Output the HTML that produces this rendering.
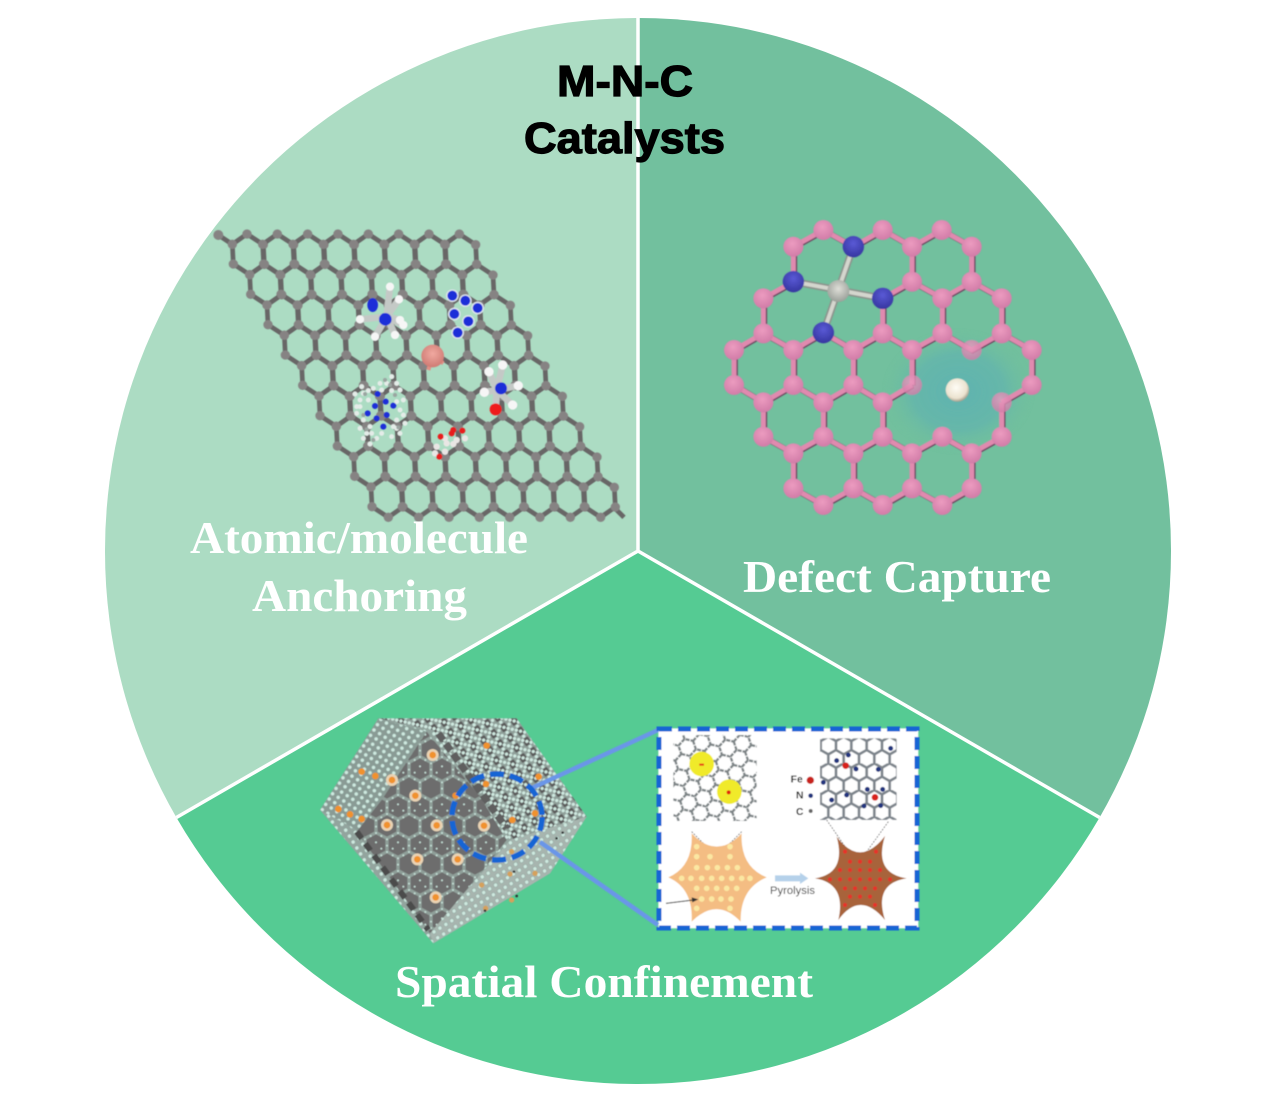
<!DOCTYPE html>
<html><head><meta charset="utf-8"><style>
html,body{margin:0;padding:0;background:#fff}
svg{display:block}
.s{font-family:"Liberation Serif",serif;font-weight:bold;fill:#fff;font-size:45px}
.t{font-family:"Liberation Sans",sans-serif;font-weight:bold;fill:#000;stroke:#000;stroke-width:1.2px;font-size:44px}
</style></head><body>
<svg xmlns="http://www.w3.org/2000/svg" width="1276" height="1102" viewBox="0 0 1276 1102">
<defs>
<filter id="b" filterUnits="userSpaceOnUse" x="0" y="0" width="1276" height="1102"><feGaussianBlur stdDeviation="0.55"/></filter>
<radialGradient id="glow"><stop offset="0" stop-color="#5fb3b0"/><stop offset=".6" stop-color="#65b6ab" stop-opacity=".9"/><stop offset="1" stop-color="#72c09e" stop-opacity="0"/></radialGradient>
<radialGradient id="pk" cx=".45" cy=".35" r=".7"><stop offset="0" stop-color="#ec9cc0"/><stop offset="1" stop-color="#d07aa6"/></radialGradient>
<radialGradient id="nb" cx=".5" cy=".35" r=".7"><stop offset="0" stop-color="#5a5ad6"/><stop offset="1" stop-color="#33339c"/></radialGradient>
<radialGradient id="fe" cx=".5" cy=".4" r=".7"><stop offset="0" stop-color="#dfdfd8"/><stop offset="1" stop-color="#8f958f"/></radialGradient>
<radialGradient id="pt" cx=".45" cy=".4" r=".65"><stop offset="0" stop-color="#fffdf6"/><stop offset=".7" stop-color="#ece3d0"/><stop offset="1" stop-color="#8d8775"/></radialGradient>
<radialGradient id="cu" cx=".5" cy=".4" r=".7"><stop offset="0" stop-color="#f0a9a0"/><stop offset="1" stop-color="#c9736c"/></radialGradient>
<g id="h"><polygon points="-4,-61 45,-29 48,30 4,61 -45,29 -48,-30" fill="none" stroke="#686666" stroke-width="14"/>
<path d="M-4-61h0M45-29h0M48 30h0M4 61h0M-45 29h0M-48-30h0" stroke="#868383" stroke-width="28" stroke-linecap="round"/></g>
<g id="r"><use href="#h"/><use href="#h" x="91"/><use href="#h" x="182"/><use href="#h" x="273"/><use href="#h" x="364"/><use href="#h" x="455"/><use href="#h" x="546"/><use href="#h" x="637"/></g>
<pattern id="pdots" patternUnits="userSpaceOnUse" width="20" height="19" patternTransform="rotate(33)"><circle cx="10" cy="9" r="6" fill="#cfe9e0" stroke="#6d8a80" stroke-width="1"/></pattern>
<pattern id="pdots2" patternUnits="userSpaceOnUse" width="21" height="21" patternTransform="rotate(-32)"><circle cx="10" cy="10" r="6" fill="#cfe9e0" stroke="#6d8a80" stroke-width="1"/></pattern>
<pattern id="phex" patternUnits="userSpaceOnUse" width="66" height="114"><rect width="66" height="114" fill="#8f9f99"/>
<path d="M33 4L61 19V53L33 68L5 53V19Z M0 61L28 76V110L0 125L-28 110V76Z M66 61L94 76V110L66 125L38 110V76Z M0 -53L28 -38V-4L0 11L-28 -4V-38Z M66 -53L94 -38V-4L66 11L38 -4V-38Z" fill="#6d6d6d"/>
<path d="M33 0h0M66 19h0M0 19h0M66 57h0M0 57h0M33 76h0M33 114h0M16 10h0M50 10h0M16 66h0M50 66h0M0 38h0M66 38h0M33 95h0M16 104h0M50 104h0M0 85h0M66 85h0" stroke="#c4ded5" stroke-width="6" stroke-linecap="round"/></pattern>
<pattern id="pdark" patternUnits="userSpaceOnUse" width="36" height="36" patternTransform="rotate(-32)"><rect width="36" height="36" fill="#8f9f99"/><rect x="8" y="6" width="20" height="24" rx="3" fill="#5a5a5a"/>
<path d="M0 0h0M18 0h0M36 0h0M0 18h0M18 18h0M36 18h0M0 36h0M18 36h0M36 36h0M9 9h0M27 27h0" stroke="#cfe9e0" stroke-width="10" stroke-linecap="round"/></pattern>
<pattern id="ihex" patternUnits="userSpaceOnUse" width="46" height="80" x="512" y="50"><path d="M0 13L23 0L46 13M0 13V40M46 13V40M0 40L23 53L46 40M23 53V80" fill="none" stroke="#7d848b" stroke-width="8"/></pattern>
<pattern id="igr" patternUnits="userSpaceOnUse" width="46" height="80" patternTransform="rotate(42)"><path d="M0 13L23 0L46 13M0 13V40M46 13V40M0 40L23 53L46 40M23 53V80" fill="none" stroke="#7c8385" stroke-width="7" stroke-dasharray="12 3"/></pattern>
</defs>
<rect width="1276" height="1102" fill="#fff"/>
<path d="M638 551L638 18A533 533 0 0 0 176.4 817.5Z" fill="#acdcc3"/>
<path d="M638 551L638 18A533 533 0 0 1 1099.6 817.5Z" fill="#72c09e"/>
<path d="M638 551L176.4 817.5A533 533 0 0 0 1099.6 817.5Z" fill="#55cb93"/>
<path d="M638 18V551L176.4 817.5M638 551L1099.6 817.5" fill="none" stroke="#fff" stroke-width="3.5"/>

<g filter="url(#b)">
<g transform="translate(200 220) scale(.33333)">
<path d="M55 45L100 75M1240 860L1272 892" stroke="#686666" stroke-width="14"/>
<path d="M55 45h0" stroke="#868383" stroke-width="30" stroke-linecap="round"/>
<g transform="translate(145 103)">
<use href="#r"/><use href="#r" x="52" y="91"/><use href="#r" x="104" y="182"/><use href="#r" x="156" y="273"/><use href="#r" x="208" y="364"/><use href="#r" x="260" y="455"/><use href="#r" x="312" y="546"/><use href="#r" x="364" y="637"/><use href="#r" x="416" y="728"/>
</g>
<path d="M570 200L560 290L480 298M597 238L560 290L600 300M525 350L560 290L585 345M610 315L560 290" fill="none" stroke="#c4c9c6" stroke-width="20"/>
<path d="M570 200h0M597 238h0M480 298h0M600 300h0M525 350h0M585 345h0M610 315h0" stroke="#f6f6f6" stroke-width="25" stroke-linecap="round"/>
<ellipse cx="518" cy="255" rx="16" ry="21" fill="#1b2ed8"/><circle cx="556" cy="298" r="19" fill="#1b2ed8"/>
<path d="M757 227h0M796 242h0M833 264h0M763 282h0M805 304h0M773 338h0" stroke="#dfe6ee" stroke-width="38" stroke-linecap="round"/>
<path d="M757 227h0M796 242h0M833 264h0M763 282h0M805 304h0M773 338h0" stroke="#1b2ed8" stroke-width="30" stroke-linecap="round"/>
<path d="M698 408L665 408M698 408L730 430M698 408L685 450" fill="none" stroke="#e08f86" stroke-width="12"/>
<circle cx="698" cy="408" r="34" fill="url(#cu)"/>
<path d="M867 455L890 510L908 435M955 497L890 510L853 517M938 555L890 510L887 568" fill="none" stroke="#c4c9c6" stroke-width="20"/>
<path d="M867 455h0M908 435h0M955 497h0M853 517h0M938 555h0" stroke="#f6f6f6" stroke-width="28" stroke-linecap="round"/>
<circle cx="903" cy="505" r="18" fill="#1b2ed8"/><circle cx="887" cy="568" r="18" fill="#ee1c1c"/>
<path d="M465 522h0M485 500h0M505 512h0M480 540h0M505 540h0M575 470h0M590 490h0M560 490h0M600 510h0M575 512h0M610 540h0M590 545h0M470 580h0M490 600h0M510 620h0M490 655h0M510 672h0M530 655h0M515 640h0M580 620h0M600 640h0M615 610h0M590 600h0M575 650h0M610 585h0M480 625h0M545 640h0M520 505h0M545 510h0M470 560h0M600 570h0M490 520h0M540 490h0M590 625h0M500 640h0M480 560h0" stroke="#e4ece8" stroke-width="15" stroke-linecap="round"/>
<path d="M495 522h0M555 480h0M585 525h0M500 628h0M595 622h0M520 660h0M570 495h0M490 585h0" stroke="#9aa4a0" stroke-width="12" stroke-linecap="round"/>
<path d="M533 522h0M557 545h0M580 557h0M525 558h0M503 580h0M560 585h0M530 595h0M550 620h0" stroke="#1b2ed8" stroke-width="18" stroke-linecap="round"/>
<path d="M710 680h0M735 655h0M770 660h0M795 655h0M740 670h0M705 700h0M735 695h0M760 672h0" stroke="#e9e6e4" stroke-width="19" stroke-linecap="round"/>
<path d="M722 650h0M760 630h0M787 632h0M755 640h0M718 710h0" stroke="#e81c1c" stroke-width="18" stroke-linecap="round"/>
</g>

<g transform="translate(710 210) scale(.33333)">
<ellipse cx="745" cy="545" rx="230" ry="190" fill="url(#glow)"/>
<g fill="none">
<path transform="translate(3 2)" stroke="#6b4660" stroke-width="17" d="M250 110L340 60L430 110L518 60L606 110L695 60L785 110M250 110V215M606 110V215M785 110V215M250 215L160 265M518 265L606 215L697 265L785 215L875 265M160 265V370M518 265V370M697 265V370M875 265V370M72 420L160 370L250 420L340 368L430 420L518 370L606 420L697 370L785 420L875 370L965 420M72 420V525M250 420V525M430 420V525M606 420V525M965 420V525M72 525L160 577L250 525L340 577L430 525L518 577L606 525M875 577L965 525M160 577V680M340 577V680M518 577V680M875 577V680M160 680L250 730L340 680L430 730L518 680L606 730L697 680L785 730L875 680M250 730V835M430 730V835M606 730V835M785 730V835M250 835L340 885L430 835L518 885L606 835L697 885L785 835"/>
<path stroke="#e08aaf" stroke-width="15" d="M250 110L340 60L430 110L518 60L606 110L695 60L785 110M250 110V215M606 110V215M785 110V215M250 215L160 265M518 265L606 215L697 265L785 215L875 265M160 265V370M518 265V370M697 265V370M875 265V370M72 420L160 370L250 420L340 368L430 420L518 370L606 420L697 370L785 420L875 370L965 420M72 420V525M250 420V525M430 420V525M606 420V525M965 420V525M72 525L160 577L250 525L340 577L430 525L518 577L606 525M875 577L965 525M160 577V680M340 577V680M518 577V680M875 577V680M160 680L250 730L340 680L430 730L518 680L606 730L697 680L785 730L875 680M250 730V835M430 730V835M606 730V835M785 730V835M250 835L340 885L430 835L518 885L606 835L697 885L785 835"/>
</g>
<g fill="url(#pk)">
<circle cx="340" cy="60" r="30"/><circle cx="518" cy="60" r="30"/><circle cx="695" cy="60" r="30"/>
<circle cx="250" cy="110" r="30"/><circle cx="606" cy="110" r="30"/><circle cx="785" cy="110" r="30"/>
<circle cx="606" cy="215" r="30"/><circle cx="785" cy="215" r="30"/>
<circle cx="160" cy="265" r="30"/><circle cx="697" cy="265" r="30"/><circle cx="875" cy="265" r="30"/>
<circle cx="160" cy="370" r="30"/><circle cx="518" cy="370" r="30"/><circle cx="697" cy="370" r="30"/><circle cx="875" cy="370" r="30"/>
<circle cx="72" cy="420" r="30"/><circle cx="250" cy="420" r="30"/><circle cx="430" cy="420" r="30"/><circle cx="606" cy="420" r="30"/><circle cx="785" cy="420" r="30" opacity=".8"/><circle cx="965" cy="420" r="30"/>
<circle cx="72" cy="525" r="30"/><circle cx="250" cy="525" r="30"/><circle cx="430" cy="525" r="30"/><circle cx="606" cy="525" r="30" opacity=".8"/><circle cx="965" cy="525" r="30"/>
<circle cx="160" cy="577" r="30"/><circle cx="340" cy="577" r="30"/><circle cx="518" cy="577" r="30"/><circle cx="875" cy="577" r="30" opacity=".8"/>
<circle cx="160" cy="680" r="30"/><circle cx="340" cy="680" r="30"/><circle cx="518" cy="680" r="30"/><circle cx="697" cy="680" r="30"/><circle cx="875" cy="680" r="30"/>
<circle cx="250" cy="730" r="30"/><circle cx="430" cy="730" r="30"/><circle cx="606" cy="730" r="30"/><circle cx="785" cy="730" r="30"/>
<circle cx="250" cy="835" r="30"/><circle cx="430" cy="835" r="30"/><circle cx="606" cy="835" r="30"/><circle cx="785" cy="835" r="30"/>
<circle cx="340" cy="885" r="30"/><circle cx="518" cy="885" r="30"/><circle cx="697" cy="885" r="30"/>
</g>
<path d="M430 110L340 368M250 215L518 265" stroke="#8d938d" stroke-width="22" fill="none"/>
<path d="M430 110L340 368M250 215L518 265" stroke="#d4d6ce" stroke-width="12" fill="none"/>
<circle cx="385" cy="243" r="33" fill="url(#fe)"/>
<g fill="url(#nb)"><circle cx="430" cy="110" r="32"/><circle cx="250" cy="215" r="32"/><circle cx="518" cy="265" r="32"/><circle cx="340" cy="368" r="32"/></g>
<circle cx="742" cy="540" r="35" fill="url(#pt)"/>
</g>

<g transform="translate(310 700) scale(.33333)">
<polygon points="205,55 620,55 830,350 720,520 370,730 30,330" fill="#93a49e"/>
<polygon points="205,55 620,55 830,350 720,520 370,730 30,330" fill="url(#pdots2)"/>
<polygon points="205,55 350,95 215,320 150,395 30,330" fill="#8a9b95"/>
<polygon points="205,55 350,95 215,320 150,395 30,330" fill="url(#pdots)"/>
<polygon points="205,55 620,55 830,350 600,420 370,90" fill="url(#pdark)"/>
<polygon points="600,420 830,350 720,520 370,730 360,700" fill="#a7b5af"/>
<polygon points="600,420 830,350 720,520 370,730 360,700" fill="url(#pdots2)"/>
<polygon points="350,95 510,290 590,420 520,510 360,700 140,395 215,300" fill="url(#phex)"/>
<path d="M385 100L590 385" stroke="#5e5e5e" stroke-width="22" stroke-dasharray="26 12" fill="none"/>
<path d="M140 395L355 690" stroke="#4c4c4c" stroke-width="18" stroke-dasharray="26 18" fill="none"/>
<path d="M368 165h0M246 240h0M316 287h0M231 375h0M380 376h0M522 377h0M322 478h0M443 478h0M377 592h0" stroke="#e9d3b4" stroke-width="36" stroke-linecap="round"/>
<path d="M368 165h0M246 240h0M316 287h0M231 375h0M380 376h0M522 377h0M322 478h0M443 478h0M377 592h0M530 137h0M686 230h0M528 252h0M437 287h0M607 360h0M675 340h0M85 327h0M120 343h0M155 357h0M155 215h0M196 228h0" stroke="#f0922e" stroke-width="20" stroke-linecap="round"/>
<path d="M605 455h0M675 520h0M600 522h0M515 555h0M605 600h0M527 625h0" stroke="#d5a15c" stroke-width="16" stroke-linecap="round"/>
<path d="M740 415h0M758 398h0M612 515h0M620 588h0M525 632h0" stroke="#333" stroke-width="8" stroke-linecap="round"/>
</g>

<g transform="translate(650 720) scale(.33333)">
<rect x="25" y="25" width="780" height="600" fill="#fff"/>
<rect x="70" y="45" width="250" height="258" fill="url(#igr)"/>
<circle cx="155" cy="132" r="37" fill="#f0ea2a"/><circle cx="238" cy="215" r="37" fill="#f0ea2a"/>
<path d="M148 134h14" stroke="#e63a1a" stroke-width="6"/><circle cx="236" cy="217" r="6" fill="#e02010"/>
<rect x="510" y="55" width="230" height="245" fill="url(#ihex)"/>
<path d="M520 187h0M560 122h0M595 105h0M618 147h0M722 85h0M685 148h0M652 208h0M698 208h0M642 258h0M692 257h0M545 240h0M590 225h0" stroke="#24367e" stroke-width="15" stroke-linecap="round"/>
<circle cx="587" cy="137" r="10" fill="#d8201a"/><circle cx="675" cy="232" r="10" fill="#d8201a"/>
<path d="M125 335L200 410L275 335M530 300L620 430M715 305L625 430" fill="none" stroke="#555" stroke-width="2.5" stroke-dasharray="5 4"/>
<path d="M55 472Q130 440 125 340Q200 420 275 340Q270 440 350 472Q270 505 272 605Q200 530 125 605Q130 505 55 472Z" fill="#f4bd83"/>
<path d="M140 380h0M240 380h0M140 410h0M180 410h0M240 410h0M140 443h0M172 443h0M202 443h0M232 443h0M262 443h0M95 475h0M123 475h0M155 475h0M185 475h0M215 475h0M245 475h0M275 475h0M300 475h0M140 505h0M170 505h0M200 505h0M230 505h0M260 505h0M155 537h0M185 537h0M213 537h0M243 537h0M140 565h0M240 565h0" stroke="#fbe7a2" stroke-width="17" stroke-linecap="round"/>
<path d="M495 475Q590 460 560 350Q630 445 705 348Q670 460 770 475Q670 490 705 600Q630 510 565 600Q590 490 495 475Z" fill="#a8643a"/>
<path d="M585 395h0M678 395h0M600 425h0M630 425h0M660 425h0M570 450h0M600 450h0M630 450h0M660 450h0M690 450h0M540 478h0M570 478h0M600 478h0M630 478h0M660 478h0M690 478h0M720 478h0M585 505h0M615 505h0M645 505h0M675 505h0M600 530h0M630 530h0M660 530h0M585 555h0M675 555h0" stroke="#e8302a" stroke-width="12" stroke-linecap="round"/>
<path d="M375 466H450V458L475 475L450 492V484H375Z" fill="#b5d1ea"/>
<path d="M48 550L130 540" stroke="#333" stroke-width="3"/><path d="M145 538L125 532L127 547Z" fill="#333"/>
<text x="360" y="522" font-family="Liberation Sans,sans-serif" font-size="32" fill="#333" textLength="135" lengthAdjust="spacingAndGlyphs">Pyrolysis</text>
<text x="422" y="188" font-family="Liberation Sans,sans-serif" font-size="31" font-weight="bold" fill="#222">Fe</text>
<text x="438" y="236" font-family="Liberation Sans,sans-serif" font-size="31" font-weight="bold" fill="#222">N</text>
<text x="438" y="285" font-family="Liberation Sans,sans-serif" font-size="31" font-weight="bold" fill="#222">C</text>
<circle cx="481" cy="181" r="11" fill="#c8201a"/><circle cx="482" cy="227" r="7" fill="#24367e"/><circle cx="482" cy="273" r="6" fill="#666"/>
</g>
<path d="M532 788L658 730M540 842L658 925" stroke="#6a96e8" stroke-width="4.5" fill="none"/>
<rect x="659" y="729" width="258" height="199" fill="none" stroke="#1565d4" stroke-width="5" stroke-dasharray="13 6"/>
<ellipse cx="497" cy="817" rx="45" ry="43" fill="none" stroke="#1565d4" stroke-width="5.5" stroke-dasharray="14 6"/>
</g>

<text class="t" x="557" y="96" textLength="136" lengthAdjust="spacingAndGlyphs">M-N-C</text>
<text class="t" x="524" y="153" textLength="201" lengthAdjust="spacingAndGlyphs">Catalysts</text>
<text class="s" x="190" y="553" textLength="338" lengthAdjust="spacingAndGlyphs">Atomic/molecule</text>
<text class="s" x="252" y="611" textLength="215" lengthAdjust="spacingAndGlyphs">Anchoring</text>
<text class="s" x="743" y="592" textLength="308" lengthAdjust="spacingAndGlyphs">Defect Capture</text>
<text class="s" x="395" y="997" textLength="418" lengthAdjust="spacingAndGlyphs">Spatial Confinement</text>
</svg>
</body></html>
